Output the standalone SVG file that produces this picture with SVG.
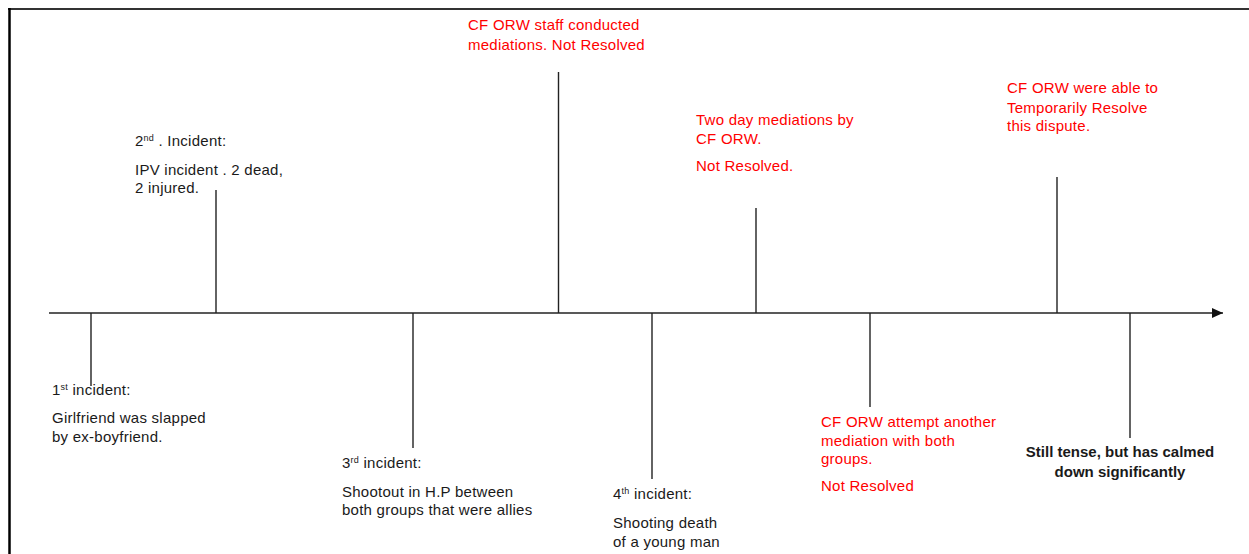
<svg xmlns="http://www.w3.org/2000/svg" width="1249" height="554" viewBox="0 0 1249 554">
<style>
  text { font-family: "Liberation Sans", Arial, sans-serif; font-size: 15px; letter-spacing: 0.25px; }
  .blk { fill: #1a1a1a; }
  .red { fill: #ff0000; }
  .bold { font-weight: bold; fill: #1a1a1a; text-anchor: middle; letter-spacing: 0; }
  .sup { font-size: 9px; }
  .tick { stroke: #222; stroke-width: 1.4; fill: none; }
</style>
<defs>
  <marker id="arrow" markerWidth="12" markerHeight="10" refX="11" refY="5" orient="auto" markerUnits="userSpaceOnUse">
    <path d="M0,0 L11,5 L0,10 Z" fill="#111"/>
  </marker>
</defs>
<rect x="0" y="0" width="1249" height="554" fill="#ffffff"/>
<g id="frame">
  <line x1="8" y1="9" x2="1249" y2="9" stroke="#333" stroke-width="2.2"/>
  <line x1="9.5" y1="8" x2="9.5" y2="554" stroke="#000" stroke-width="2.5"/>
</g>
<g id="connectors">
  <line class="tick" x1="49" y1="313" x2="1223" y2="313" marker-end="url(#arrow)"/>
  <line class="tick" x1="91" y1="313" x2="91" y2="386"/>
  <line class="tick" x1="216" y1="190" x2="216" y2="313"/>
  <line class="tick" x1="413" y1="313" x2="413" y2="448"/>
  <line class="tick" x1="558.5" y1="72" x2="558.5" y2="313"/>
  <line class="tick" x1="652" y1="313" x2="652" y2="479"/>
  <line class="tick" x1="756" y1="208" x2="756" y2="313"/>
  <line class="tick" x1="870" y1="313" x2="870" y2="407"/>
  <line class="tick" x1="1057" y1="177" x2="1057" y2="313"/>
  <line class="tick" x1="1130" y1="313" x2="1130" y2="438"/>
</g>
<g id="incident1">
  <text class="blk" x="52" y="395">1<tspan class="sup" dy="-5">st</tspan><tspan dy="5"> incident:</tspan></text>
  <text class="blk" x="52" y="423">Girlfriend was slapped</text>
  <text class="blk" x="52" y="442">by ex-boyfriend.</text>
</g>
<g id="incident2">
  <text class="blk" x="135" y="146">2<tspan class="sup" dy="-5">nd</tspan><tspan dy="5"> . Incident:</tspan></text>
  <text class="blk" x="135" y="175">IPV incident . 2 dead,</text>
  <text class="blk" x="135" y="193">2 injured.</text>
</g>
<g id="incident3">
  <text class="blk" x="342" y="468">3<tspan class="sup" dy="-5">rd</tspan><tspan dy="5"> incident:</tspan></text>
  <text class="blk" x="342" y="497">Shootout in H.P between</text>
  <text class="blk" x="342" y="515">both groups that were allies</text>
</g>
<g id="mediation1">
  <text class="red" x="468" y="30">CF ORW staff conducted</text>
  <text class="red" x="468" y="50">mediations. Not Resolved</text>
</g>
<g id="incident4">
  <text class="blk" x="613" y="499">4<tspan class="sup" dy="-5">th</tspan><tspan dy="5"> incident:</tspan></text>
  <text class="blk" x="613" y="528">Shooting death</text>
  <text class="blk" x="613" y="547">of a young man</text>
</g>
<g id="mediation2">
  <text class="red" x="696" y="125">Two day mediations by</text>
  <text class="red" x="696" y="144">CF ORW.</text>
  <text class="red" x="696" y="171">Not Resolved.</text>
</g>
<g id="mediation3">
  <text class="red" x="821" y="427">CF ORW attempt another</text>
  <text class="red" x="821" y="446">mediation with both</text>
  <text class="red" x="821" y="464">groups.</text>
  <text class="red" x="821" y="491">Not Resolved</text>
</g>
<g id="resolved">
  <text class="red" x="1007" y="93">CF ORW were able to</text>
  <text class="red" x="1007" y="113">Temporarily Resolve</text>
  <text class="red" x="1007" y="131">this dispute.</text>
</g>
<g id="status">
  <text class="bold" x="1120" y="457">Still tense, but has calmed</text>
  <text class="bold" x="1120" y="477">down significantly</text>
</g>
</svg>
